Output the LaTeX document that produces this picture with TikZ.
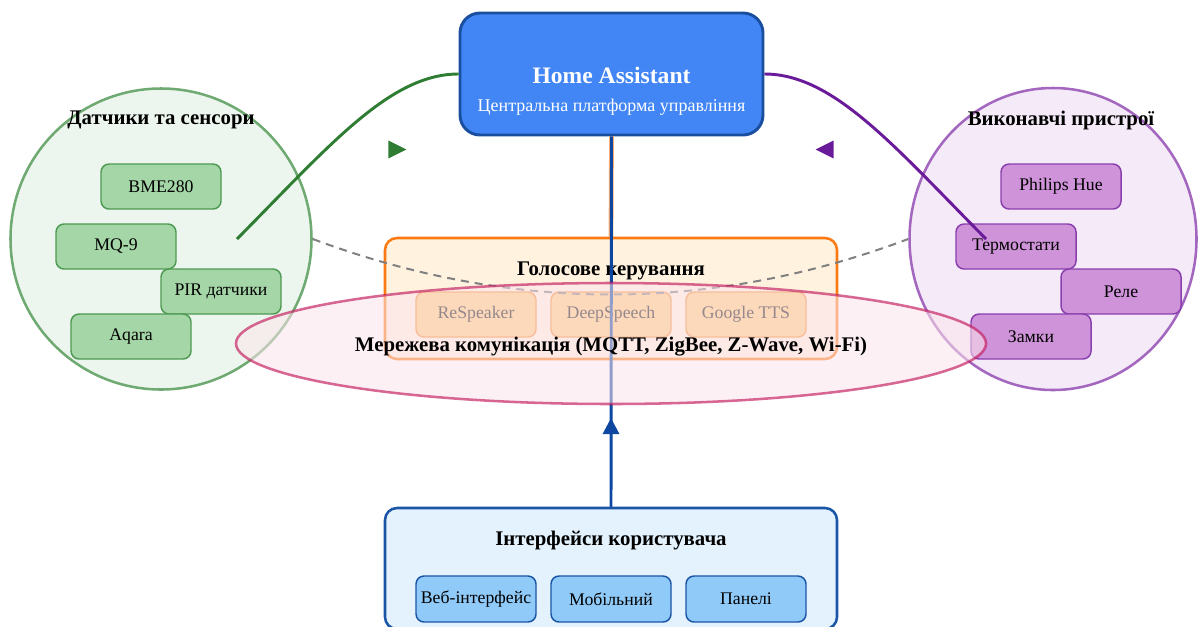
\documentclass[tikz,border=0pt]{standalone}
\usepackage{fontspec}
\setmainfont{Liberation Serif}
\usepackage{xcolor}
\usetikzlibrary{shapes.geometric, arrows.meta, positioning}
\definecolor{haBlue}{HTML}{4285F4}
\definecolor{haEdge}{HTML}{1A4F9F}
\definecolor{lineBlue}{HTML}{0D47A1}
\definecolor{sensFill}{HTML}{EDF6EE}
\definecolor{sensEdge}{HTML}{6FAA72}
\definecolor{sensBox}{HTML}{A5D6A7}
\definecolor{sensBoxEdge}{HTML}{4E9A52}
\definecolor{sensLine}{HTML}{2E7D32}
\definecolor{actFill}{HTML}{F5EAF8}
\definecolor{actEdge}{HTML}{A467BF}
\definecolor{actBox}{HTML}{CE93D8}
\definecolor{actBoxEdge}{HTML}{8A3FAE}
\definecolor{actLine}{HTML}{6A1B9A}
\definecolor{voiceFill}{HTML}{FFF3E0}
\definecolor{voiceEdge}{HTML}{FB7A14}
\definecolor{voiceBox}{HTML}{FFCC80}
\definecolor{voiceBoxEdge}{HTML}{F0903A}
\definecolor{netFill}{HTML}{FCE4EC}
\definecolor{netEdge}{HTML}{C2185B}
\definecolor{uiFill}{HTML}{E3F2FD}
\definecolor{uiEdge}{HTML}{1A55A6}
\definecolor{uiBox}{HTML}{90CAF9}

\begin{document}
\begin{tikzpicture}[x=0.75pt, y=-0.75pt,
  devbox/.style={rounded corners=6pt, line width=1.1pt, minimum width=90pt, minimum height=33.75pt, inner sep=0pt, font=\fontsize{13.3}{16}\selectfont},
  sensbox/.style={devbox, draw=sensBoxEdge, fill=sensBox},
  actbox/.style={devbox, draw=actBoxEdge, fill=actBox},
  voicebox/.style={devbox, draw=voiceBoxEdge, fill=voiceBox, text=black!90},
  uibox/.style={devbox, draw=uiEdge, fill=uiBox, minimum height=34.5pt},
  grouptitle/.style={font=\fontsize{15.6}{18}\selectfont\bfseries},
  panel/.style={rounded corners=9pt, line width=1.9pt, minimum width=339pt, minimum height=90.75pt, inner sep=0pt},
  link/.style={line width=2.2pt},
  marker/.style={isosceles triangle, isosceles triangle stretches, minimum width=13.5pt, minimum height=13.5pt, inner sep=0pt},
]
\useasboundingbox (0,0) rectangle (1198,626);
\clip (0,0) rectangle (1198,626);

% Central platform
\node[rounded corners=15pt, line width=2.2pt, draw=haEdge, fill=haBlue, minimum width=227.25pt, minimum height=91.5pt, inner sep=0pt] (ha) at (611.5,74) {};
\node[font=\fontsize{17.7}{20}\selectfont\bfseries, text=white] (haTitle) at (611.5,75) {Home Assistant};
\node[font=\fontsize{13.5}{16}\selectfont, text=white] (haSub) at (611.5,107) {Центральна платформа управління};

% Sensors
\node[circle, minimum size=225.75pt, line width=1.9pt, inner sep=0pt, draw=sensEdge, fill=sensFill] (sens) at (161,239) {};
\node[grouptitle] (sensTitle) at (161,120) {Датчики та сенсори};
\node[sensbox] (bme) at (161,186.5) {BME280};
\node[sensbox] (mq) at (116,246.5) {MQ-9};
\node[sensbox] (pir) at (221,291.5) {PIR датчики};
\node[sensbox] (aqara) at (131,336.5) {Aqara};

% Actuators
\node[ellipse, minimum width=215.25pt, minimum height=226.5pt, line width=1.9pt, inner sep=0pt, draw=actEdge, fill=actFill] (act) at (1053,239) {};
\node[grouptitle] (actTitle) at (1061,120) {Виконавчі пристрої};
\node[actbox] (hue) at (1061,186.5) {Philips Hue};
\node[actbox] (thermo) at (1016,246.5) {Термостати};
\node[actbox] (relay) at (1121,291.5) {Реле};
\node[actbox] (locks) at (1031,336.5) {Замки};

% Voice control
\node[panel, draw=voiceEdge, fill=voiceFill] (voice) at (611,298.5) {};
\node[grouptitle] (voiceTitle) at (611,271) {Голосове керування};
\node[voicebox] (respeaker) at (476,314.5) {ReSpeaker};
\node[voicebox] (deepspeech) at (611,314.5) {DeepSpeech};
\node[voicebox] (gtts) at (746,314.5) {Google TTS};

% User interfaces
\node[panel, draw=uiEdge, fill=uiFill] (ui) at (611,568.5) {};
\node[grouptitle] (uiTitle) at (611,541) {Інтерфейси користувача};
\node[uibox] (web) at (476,599) {Веб-інтерфейс};
\node[uibox] (mobile) at (611,599) {Мобільний};
\node[uibox] (panels) at (746,599) {Панелі};

% Links
\draw[dashed, gray, line width=1.5pt, dash pattern=on 6pt off 4.5pt] (sens.east) .. controls (511,313) and (711,313) .. (act.west);
\draw[line width=3.6pt, voiceEdge!60] (voice.north) -- (ha.south);
\draw[link, lineBlue] (ui.north) -- (ha.south);
\coordinate (tip) at (611,418);
\draw[link, lineBlue, -{Triangle[length=12pt, width=12pt]}] (ui.north) -- (tip);
\coordinate (sensIn) at (237,239);
\coordinate (actIn) at (986,239);
\draw[link, sensLine] (ha.west) .. controls (390,74) and (330,145) .. (sensIn);
\draw[link, actLine] (ha.east) .. controls (833,74) and (893,145) .. (actIn);

% Network
\node[ellipse, minimum width=562.5pt, minimum height=90.75pt, inner sep=0pt, line width=1.9pt, draw=netEdge, draw opacity=0.65, fill=netFill, fill opacity=0.55] (net) at (611,343.5) {};
\node[grouptitle] (netTitle) at (611,347) {Мережева комунікація (MQTT, ZigBee, Z-Wave, Wi-Fi)};

% Markers
\node[marker, fill=sensLine] (sensMark) at (394,149.5) {};
\node[marker, fill=actLine, shape border rotate=180] (actMark) at (828,149.5) {};
\end{tikzpicture}
\end{document}
